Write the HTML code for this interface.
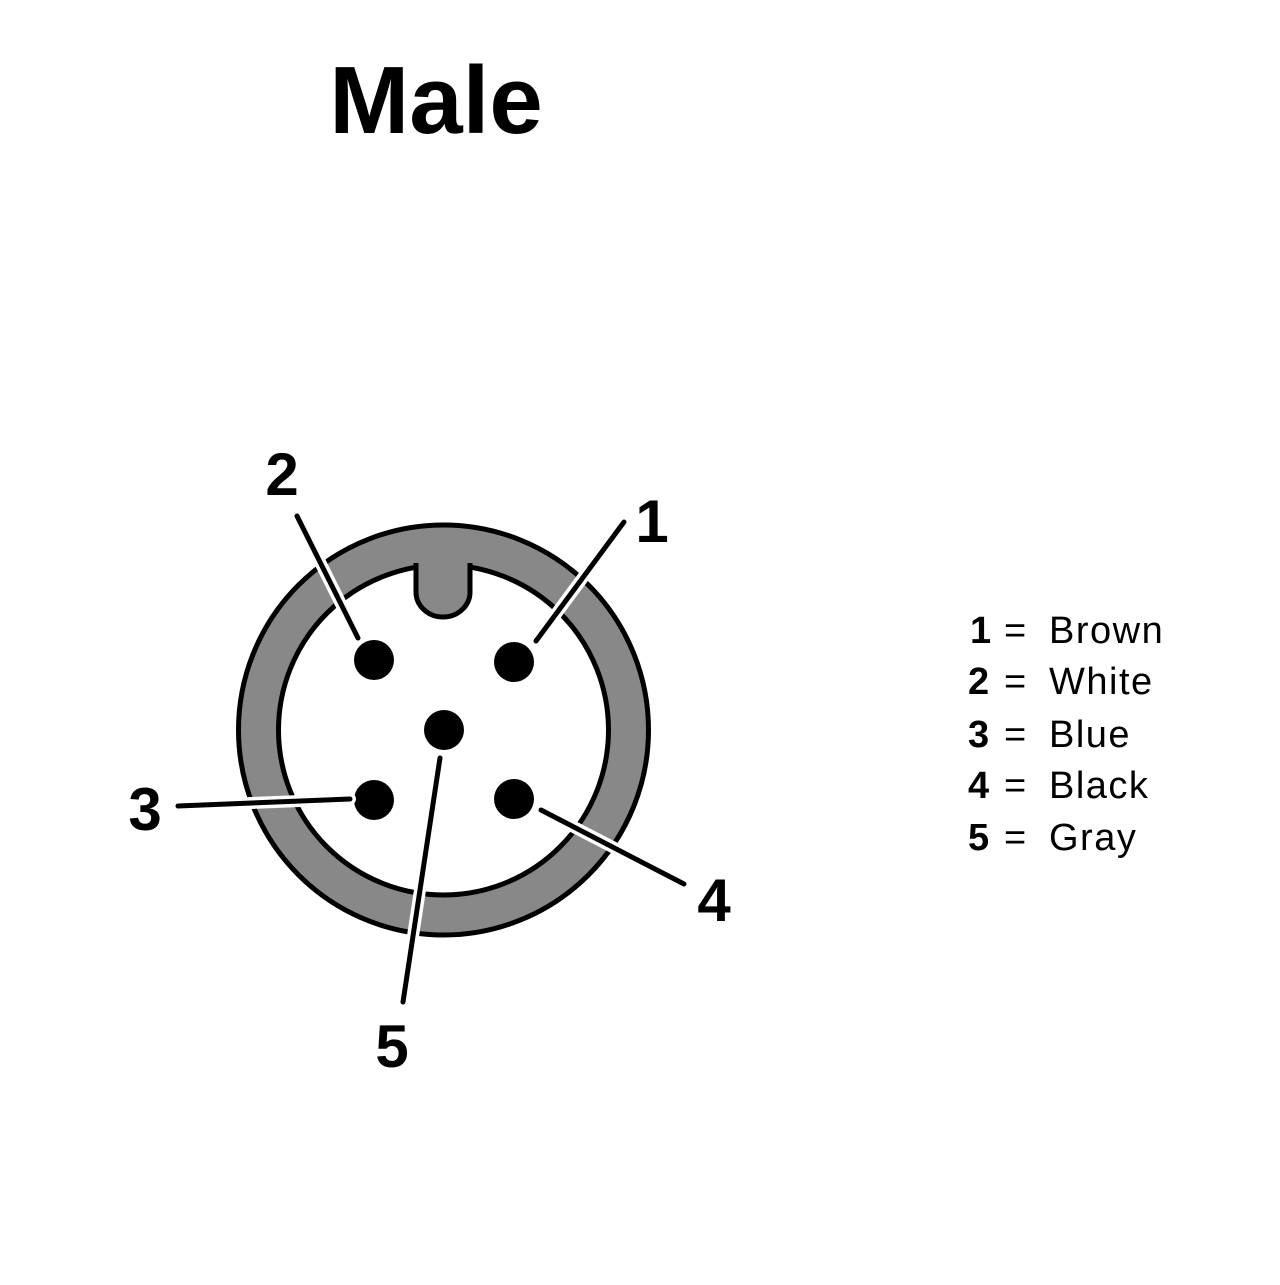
<!DOCTYPE html>
<html><head><style>html,body{margin:0;padding:0;background:#fff;}</style></head>
<body>
<svg width="1280" height="1280" viewBox="0 0 1280 1280" xmlns="http://www.w3.org/2000/svg" font-family="Liberation Sans, sans-serif">
<rect width="1280" height="1280" fill="#fff"/>
<text x="436" y="133" font-size="96" font-weight="bold" text-anchor="middle" fill="#000">Male</text>
<circle cx="443.5" cy="730" r="205" fill="#888" stroke="#000" stroke-width="5"/>
<circle cx="443.5" cy="730" r="165" fill="#fff" stroke="#000" stroke-width="5"/>
<path d="M416 563 L416 592 A27 25 0 0 0 470 592 L470 563" fill="#888" stroke="#000" stroke-width="5"/>
<rect x="418.5" y="555" width="49" height="10" fill="#888"/>
<g fill="#000">
<circle cx="374" cy="660" r="20"/><circle cx="514" cy="662" r="20"/>
<circle cx="444" cy="730" r="20"/><circle cx="374" cy="800" r="20"/>
<circle cx="514" cy="799" r="20"/>
</g>
<g stroke="#fff" stroke-width="12" stroke-linecap="round">
<line x1="297" y1="516" x2="358" y2="638"/>
<line x1="624" y1="522" x2="536" y2="641"/>
<line x1="178" y1="806" x2="350" y2="799"/>
<line x1="541" y1="810" x2="684" y2="884"/>
<line x1="440" y1="758" x2="403" y2="1002"/>
</g>
<g stroke="#000" stroke-width="5" stroke-linecap="round">
<line x1="297" y1="516" x2="358" y2="638"/>
<line x1="624" y1="522" x2="536" y2="641"/>
<line x1="178" y1="806" x2="350" y2="799"/>
<line x1="541" y1="810" x2="684" y2="884"/>
<line x1="440" y1="758" x2="403" y2="1002"/>
</g>
<g font-size="60" font-weight="bold" text-anchor="middle" fill="#000">
<text x="282" y="495">2</text>
<text x="652" y="542">1</text>
<text x="145" y="830">3</text>
<text x="714" y="921">4</text>
<text x="392" y="1067">5</text>
</g>
<g font-size="38" fill="#000">
<text x="970" y="643"><tspan font-weight="bold">1</tspan><tspan x="1004">=</tspan><tspan x="1049" letter-spacing="1.5">Brown</tspan></text>
<text x="968" y="694"><tspan font-weight="bold">2</tspan><tspan x="1004">=</tspan><tspan x="1049" letter-spacing="1.5">White</tspan></text>
<text x="968" y="747"><tspan font-weight="bold">3</tspan><tspan x="1004">=</tspan><tspan x="1049" letter-spacing="1.5">Blue</tspan></text>
<text x="968" y="798"><tspan font-weight="bold">4</tspan><tspan x="1004">=</tspan><tspan x="1049" letter-spacing="1.5">Black</tspan></text>
<text x="968" y="850"><tspan font-weight="bold">5</tspan><tspan x="1004">=</tspan><tspan x="1049" letter-spacing="1.5">Gray</tspan></text>
</g>
</svg>
</body></html>
